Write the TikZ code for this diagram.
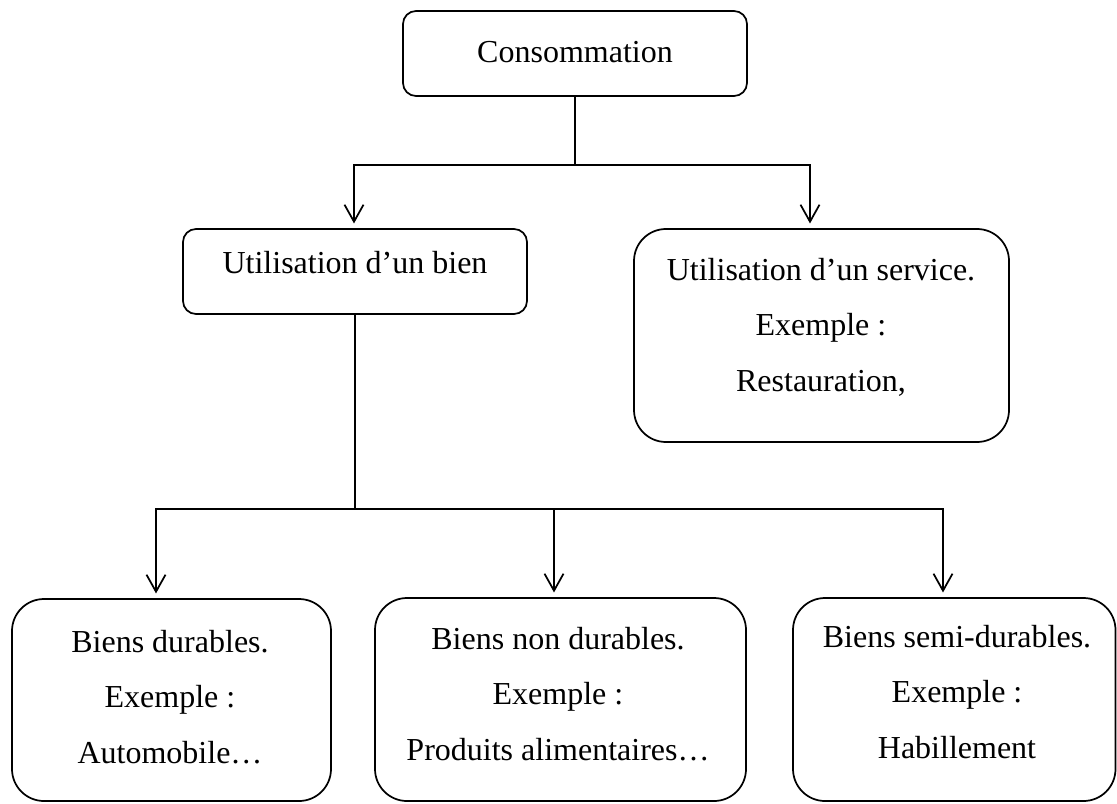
\documentclass[tikz,border=0pt]{standalone}
\usepackage{fontspec}
\setmainfont{Liberation Serif}
\usetikzlibrary{arrows.meta,fit}
\begin{document}
\begin{tikzpicture}[x=0.75pt,y=-0.75pt,
  box/.style={draw, line width=1.3pt, rounded corners=#1, inner sep=0pt},
  txt/.style={font=\fontsize{24pt}{41.6pt}\selectfont, align=center, anchor=base, inner sep=0pt},
  ln/.style={line width=1.3pt, line cap=rect},
  arr/.style={line width=1.3pt, -{Straight Barb[length=12.75pt,width=14.25pt]}, shorten >=3.5pt}]
\useasboundingbox (0,0) rectangle (1117,803);
% boxes
\node[box=9.75pt, fit={(403,11) (747,96)}] (cons) {};
\node[box=9.75pt, fit={(183,229) (527,314)}] (bien) {};
\node[box=24pt, fit={(634,229) (1009,442)}] (serv) {};
\node[box=24pt, fit={(12,599) (331,801)}] (b1) {};
\node[box=24pt, fit={(375,598) (746,801)}] (b2) {};
\node[box=24pt, fit={(793,598) (1115.5,801)}] (b3) {};
% texts (base anchor = baseline of the last line)
\node[txt] (tcons) at (575,62) {Consommation};
\node[txt] (tbien) at (355,273) {Utilisation d’un bien};
\node[txt] (tserv) at (821,391) {Utilisation d’un service.\\Exemple :\\Restauration,};
\node[txt] (tb1) at (170,763) {Biens durables.\\Exemple :\\Automobile…};
\node[txt] (tb2) at (558,760) {Biens non durables.\\Exemple :\\Produits alimentaires…};
\node[txt] (tb3) at (957,758) {Biens semi-durables.\\Exemple :\\Habillement};
% top connectors
\coordinate (t1) at (354,165);
\coordinate (t2) at (810,165);
\draw[ln] (cons.south) -- (cons.south |- t1);
\draw[ln] (t1) -- (t2);
\draw[arr] (t1) -- (t1 |- bien.north);
\draw[arr] (t2) -- (t2 |- serv.north);
% bottom connectors
\coordinate (u1) at (156,509);
\coordinate (u2) at (554,509);
\coordinate (u3) at (943,509);
\draw[ln] (bien.south) -- (bien.south |- u1);
\draw[ln] (u1) -- (u3);
\draw[arr] (u1) -- (u1 |- b1.north);
\draw[arr] (u2) -- (u2 |- b2.north);
\draw[arr] (u3) -- (u3 |- b3.north);
\end{tikzpicture}
\end{document}
